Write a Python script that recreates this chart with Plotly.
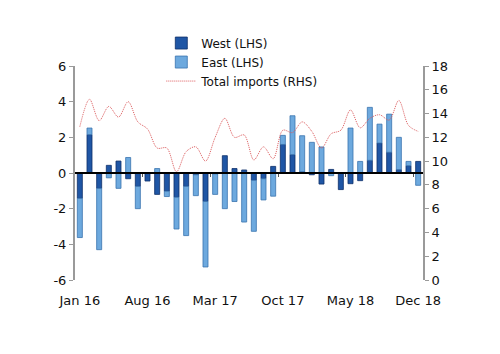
import plotly.graph_objects as go

months = ["Jan 16","Feb 16","Mar 16","Apr 16","May 16","Jun 16","Jul 16","Aug 16","Sep 16","Oct 16","Nov 16","Dec 16",
          "Jan 17","Feb 17","Mar 17","Apr 17","May 17","Jun 17","Jul 17","Aug 17","Sep 17","Oct 17","Nov 17","Dec 17",
          "Jan 18","Feb 18","Mar 18","Apr 18","May 18","Jun 18","Jul 18","Aug 18","Sep 18","Oct 18","Nov 18","Dec 18"]

west = [-1.42, 2.15, -0.86, 0.43, 0.67, -0.32, -0.75, -0.45, -1.2, -1.02, -1.36, -0.75,
        -0.1, -1.6, -0.05, 0.97, 0.25, 0.17, -0.41, -0.32, 0.37, 1.6, 1.03, 0.07,
        -0.1, -0.62, 0.2, -0.93, -0.6, -0.43, 0.71, 1.68, 1.16, 0.19, 0.41, 0.65]

east = [-2.2, 0.37, -3.44, -0.27, -0.86, 0.87, -1.25, 0.0, 0.25, -0.3, -1.78, -2.76,
        -1.17, -3.67, -1.15, -2.0, -1.6, -2.75, -2.86, -1.19, -1.3, 0.51, 2.18, 2.02,
        1.72, 1.46, -0.15, 0.0, 2.52, 0.65, 2.97, 1.06, 2.14, 1.81, 0.24, -0.69]

total = [12.9, 15.2, 13.4, 14.6, 13.7, 15.0, 13.3, 12.7, 11.1, 11.1, 9.1, 10.8,
         11.2, 10.0, 12.0, 13.6, 12.0, 12.2, 10.1, 11.2, 10.2, 12.6, 12.4, 13.3,
         12.5, 11.1, 12.3, 12.6, 14.3, 12.8, 13.6, 13.9, 13.45, 15.1, 13.0, 12.5]

tick_labels = ["Jan 16", "Aug 16", "Mar 17", "Oct 17", "May 18", "Dec 18"]
boundary_ticks = [6.5, 13.5, 20.5, 27.5, 34.5]
left_ticks = [-6, -4, -2, 0, 2, 4, 6]
right_ticks = [0, 2, 4, 6, 8, 10, 12, 14, 16, 18]

FONT = "DejaVu Sans"
GREY = "#9a9a9a"

fig = go.Figure()
fig.add_trace(go.Bar(x=months, y=west, name="West (LHS)", width=0.52,
                     marker=dict(color="#1f56a5", line=dict(color="#0e2f68", width=0.8))))
fig.add_trace(go.Bar(x=months, y=east, name="East (LHS)", width=0.52,
                     marker=dict(color="#6da9de", line=dict(color="#3a74ae", width=0.8))))
fig.add_trace(go.Scatter(x=months, y=total, name="Total imports (RHS)", yaxis="y2",
                         mode="lines", line=dict(color="#dc5a5c", width=1, dash="1px,1px",
                                                 shape="spline", smoothing=0.9)))
# invisible helper trace so the zero-line axis (x2) is drawn
fig.add_trace(go.Scatter(x=list(range(len(months))), y=[None] * len(months), xaxis="x2",
                         showlegend=False, hoverinfo="skip"))

fig.update_layout(
    width=500, height=354,
    margin=dict(l=75, r=77, t=66, b=74),
    paper_bgcolor="white", plot_bgcolor="white",
    barmode="relative",
    font=dict(family=FONT, size=13, color="#111"),
    showlegend=True,
    legend=dict(x=0.248, y=1.175, xanchor="left", yanchor="top", bgcolor="rgba(0,0,0,0)",
                font=dict(size=12, family=FONT), itemwidth=30, tracegroupgap=0),
    xaxis=dict(type="category", categoryorder="array", categoryarray=months,
               range=[-0.5, 35.5], tickvals=tick_labels, ticktext=tick_labels,
               showgrid=False, showline=False, zeroline=False,
               ticks="outside", ticklen=8, tickcolor="rgba(0,0,0,0)",
               tickfont=dict(size=13)),
    xaxis2=dict(overlaying="x", anchor="free", position=0.5, range=[-0.5, 35.5],
                showgrid=False, zeroline=False, showline=True, linecolor="black", linewidth=1.5,
                ticks="outside", ticklen=3, tickcolor="#555", tickwidth=1,
                tickvals=boundary_ticks, showticklabels=False),
    yaxis=dict(range=[-6, 6], tickvals=left_ticks, ticktext=[str(v) for v in left_ticks],
               showgrid=False, zeroline=False,
               showline=True, linecolor=GREY, linewidth=2, ticks="outside", ticklen=4,
               tickcolor=GREY, tickfont=dict(size=13)),
    yaxis2=dict(range=[0, 18], tickvals=right_ticks, ticktext=[str(v) for v in right_ticks],
                overlaying="y", side="right",
                showgrid=False, zeroline=False, showline=True, linecolor=GREY, linewidth=2,
                ticks="outside", ticklen=4, tickcolor=GREY, tickfont=dict(size=13)),
)

fig.write_html("out.html")
